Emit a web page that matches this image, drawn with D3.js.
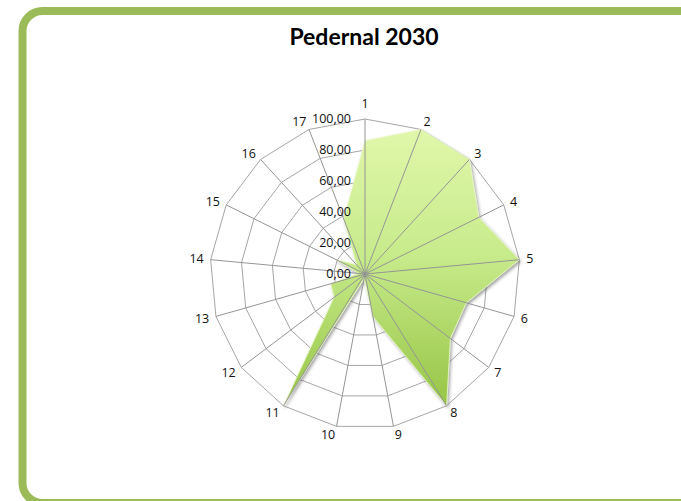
<!DOCTYPE html>
<html lang="en">
<head>
    <meta charset="UTF-8">
    <script src="https://d3js.org/d3.v7.min.js"></script>
    <title>Pedernal 2030</title>
<style>
    body { margin: 0; background: #ffffff; }
    svg { display: block; }
</style>
</head>
<body>
    <svg width=681 height=501></svg>

    <script>
        // chart values
        const title = "Pedernal 2030";
        const categories = ["1","2","3","4","5","6","7","8","9","10","11","12","13","14","15","16","17"];
        const values = [86, 100, 100, 82, 100, 68, 69, 100, 28, 3, 100, 25, 23, 4, 21, 8, 38];
        const tickValues = [0, 20, 40, 60, 80, 100];
        const tickLabels = ["0,00", "20,00", "40,00", "60,00", "80,00", "100,00"];

        const cx = 365, cy = 274, R = 155;
        const svg = d3.select("svg");

        // frame
        svg.append("rect")
            .attr("x", 22.5).attr("y", 11)
            .attr("width", 720).attr("height", 492)
            .attr("rx", 20).attr("ry", 20)
            .attr("fill", "none")
            .attr("stroke", "#9bbb59")
            .attr("stroke-width", 8);

        svg.append("text")
            .attr("x", 364).attr("y", 45)
            .attr("text-anchor", "middle")
            .style("font-family", "Lato, 'Open Sans', sans-serif")
            .style("font-weight", "bold")
            .style("font-size", "23px")
            .attr("fill", "#000")
            .text(title);

        var r = d3.scaleLinear().domain([0, 100]).range([0, R]);
        var angle = d3.scalePoint().domain(categories).range([0, 2 * Math.PI * (categories.length - 1) / categories.length]);

        function pt(cat, v) {
            var a = angle(cat);
            return [Math.sin(a) * r(v), -Math.cos(a) * r(v)];
        }

        var g = svg.append("g").attr("transform", "translate(" + cx + "," + cy + ")");

        // defs
        var defs = svg.append("defs");
        var grad = defs.append("linearGradient").attr("id", "fillGrad")
            .attr("x1", 0).attr("y1", 0).attr("x2", 0).attr("y2", 1);
        grad.append("stop").attr("offset", "0%").attr("stop-color", "#e0f7aa");
        grad.append("stop").attr("offset", "45%").attr("stop-color", "#c8eb8c");
        grad.append("stop").attr("offset", "100%").attr("stop-color", "#96c545");

        var f = defs.append("filter").attr("id", "shadow")
            .attr("x", "-10%").attr("y", "-10%").attr("width", "130%").attr("height", "130%");
        f.append("feDropShadow").attr("dx", 1.5).attr("dy", 2).attr("stdDeviation", 1.5)
            .attr("flood-color", "#333").attr("flood-opacity", 0.45);

        // rings
        g.selectAll("polygon.ring")
            .data(tickValues.slice(1))
            .enter()
            .append("polygon")
            .attr("class", "ring")
            .attr("points", function(v) { return categories.map(function(c) { return pt(c, v).join(","); }).join(" "); })
            .attr("fill", "none")
            .attr("stroke", "#a6a6a6")
            .attr("stroke-width", 1);

        // data area
        g.append("polygon")
            .attr("points", categories.map(function(c, i) { return pt(c, values[i]).join(","); }).join(" "))
            .attr("fill", "url(#fillGrad)")
            .attr("stroke", "#eaf9c8")
            .attr("stroke-width", 0.8)
            .attr("stroke-linejoin", "round")
            .attr("filter", "url(#shadow)");

        // spokes
        g.selectAll("line.spoke")
            .data(categories)
            .enter()
            .append("line")
            .attr("class", "spoke")
            .attr("x1", 0).attr("y1", 0)
            .attr("x2", function(c) { return pt(c, 100)[0]; })
            .attr("y2", function(c) { return pt(c, 100)[1]; })
            .attr("stroke", "#959595")
            .attr("stroke-width", 1);

        // category labels
        g.selectAll("text.cat")
            .data(categories)
            .enter()
            .append("text")
            .attr("class", "cat")
            .attr("x", function(c) { var a = angle(c); return Math.sin(a) * (R + 7); })
            .attr("y", function(c) {
                var a = angle(c);
                var d = Math.cos(a) > 0.99 ? 15 : 8;
                return -Math.cos(a) * (R + d);
            })
            .attr("dy", "0.35em")
            .attr("text-anchor", function(c) {
                var s = Math.sin(angle(c));
                return s > 0.05 ? "start" : (s < -0.05 ? "end" : "middle");
            })
            .style("font-family", "'Open Sans', 'DejaVu Sans', sans-serif")
            .style("font-size", "12.5px")
            .attr("fill", "#111")
            .text(function(c) { return c; });

        // value labels
        g.selectAll("text.tick")
            .data(tickValues)
            .enter()
            .append("text")
            .attr("class", "tick")
            .attr("x", -14)
            .attr("y", function(v) { return -r(v); })
            .attr("dy", "0.35em")
            .attr("text-anchor", "end")
            .style("font-family", "'Open Sans', 'DejaVu Sans', sans-serif")
            .style("font-size", "12.5px")
            .attr("fill", "#111")
            .text(function(v, i) { return tickLabels[i]; });
    </script>
</body>
</html>
